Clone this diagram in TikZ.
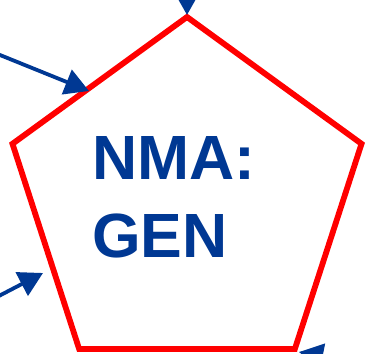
\documentclass[tikz,border=0pt]{standalone}
\usepackage{fontspec}
\setmainfont{Liberation Sans}
\usetikzlibrary{arrows.meta,shapes.geometric}
\definecolor{nmablue}{RGB}{0,56,147}
\definecolor{nmared}{RGB}{255,0,0}
\begin{document}
\begin{tikzpicture}[x=1pt,y=-1pt,
  feed/.style={draw=nmablue, line width=3.8pt,
    -{Triangle[length=24pt,width=26pt]}},
  pentabox/.style={regular polygon, regular polygon sides=5,
    minimum size=367pt, inner sep=0pt, outer sep=0pt,
    draw=nmared, line width=5.8pt},
  title/.style={anchor=north west, inner sep=0pt, text=nmablue,
    align=left, font=\bfseries\fontsize{62.5}{78}\selectfont}]
\useasboundingbox (0,0) rectangle (366,353);
\clip (0,0) rectangle (366,353);

% the process box
\node[pentabox] (gen) at (187,200.5) {};
\node[title] (name) at (92,136.5) {NMA:\\GEN};

% incoming flows (their tails start outside the frame)
\coordinate (srcTop)    at (187,-40);
\coordinate (srcUpper)  at (-13,49.75);
\coordinate (srcLower)  at (-10.2,300.7);
\coordinate (srcBottom) at (397,371.4);

\coordinate (hitTop)    at (187,15);
\coordinate (hitUpper)  at (89,91);
\coordinate (hitLower)  at (43,273);
\coordinate (hitBottom) at (299,352);

\draw[feed] (srcTop)    -- (hitTop);
\draw[feed] (srcUpper)  -- (hitUpper);
\draw[feed] (srcLower)  -- (hitLower);
\draw[feed] (srcBottom) -- (hitBottom);
\end{tikzpicture}
\end{document}
